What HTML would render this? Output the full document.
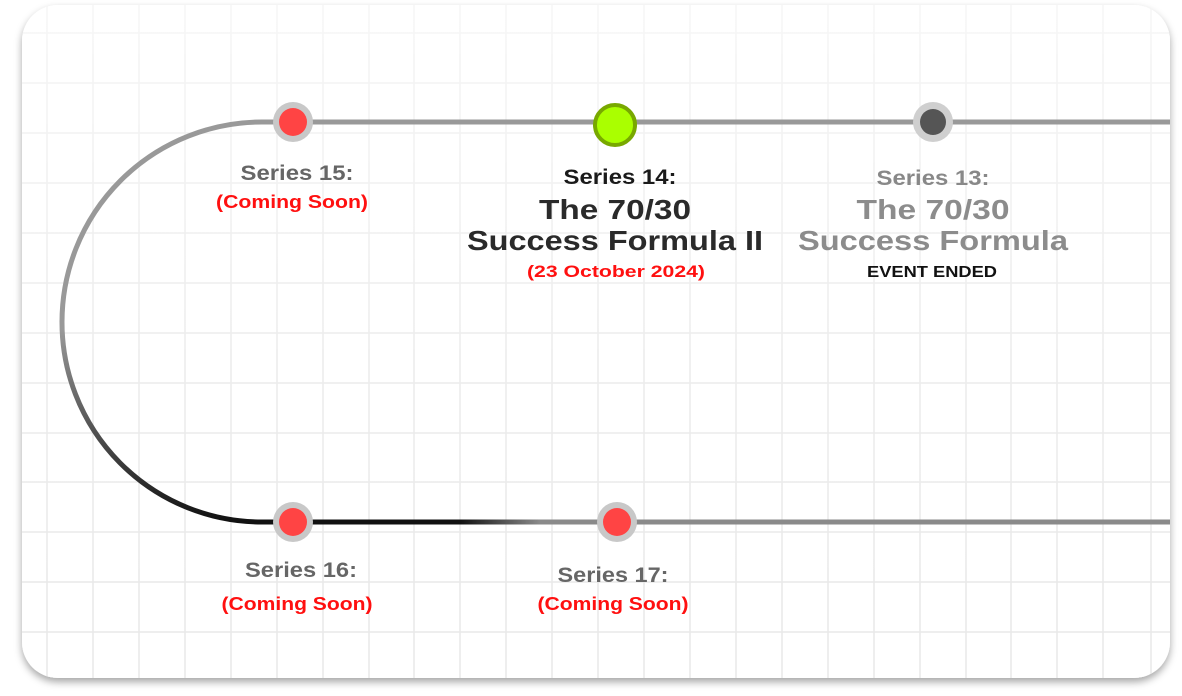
<!DOCTYPE html>
<html><head><meta charset="utf-8"><style>
html,body{margin:0;padding:0;background:#fff;width:1182px;height:696px;overflow:hidden}
svg{display:block}
text{font-family:"Liberation Sans",sans-serif;text-anchor:middle}
</style></head><body>
<svg width="1182" height="696" viewBox="0 0 1182 696">
<defs>
<filter id="sh" x="-5%" y="-5%" width="110%" height="115%">
<feDropShadow dx="0" dy="4" stdDeviation="4" flood-color="#000" flood-opacity="0.35"/>
</filter>
<clipPath id="cc"><rect x="22" y="5" width="1148" height="673" rx="36"/></clipPath>
<linearGradient id="ga" gradientUnits="userSpaceOnUse" x1="0" y1="330" x2="0" y2="522">
<stop offset="0" stop-color="#999"/><stop offset="1" stop-color="#111"/></linearGradient>
<linearGradient id="gb" gradientUnits="userSpaceOnUse" x1="460" y1="0" x2="540" y2="0">
<stop offset="0" stop-color="#111"/><stop offset="1" stop-color="#8a8a8a"/></linearGradient>
<linearGradient id="gf" x1="0" y1="0" x2="0" y2="1">
<stop offset="0" stop-color="#fff" stop-opacity="0.6"/><stop offset="0.5" stop-color="#fff" stop-opacity="0.2"/><stop offset="1" stop-color="#fff" stop-opacity="0"/></linearGradient>
</defs>
<rect x="22" y="5" width="1148" height="673" rx="36" fill="#fff" filter="url(#sh)"/>
<g clip-path="url(#cc)" stroke="#e8e8e8" stroke-width="1.5">
<line x1="47" y1="0" x2="47" y2="696"/><line x1="93" y1="0" x2="93" y2="696"/><line x1="139" y1="0" x2="139" y2="696"/><line x1="185" y1="0" x2="185" y2="696"/><line x1="231" y1="0" x2="231" y2="696"/><line x1="277" y1="0" x2="277" y2="696"/><line x1="323" y1="0" x2="323" y2="696"/><line x1="369" y1="0" x2="369" y2="696"/><line x1="414" y1="0" x2="414" y2="696"/><line x1="460" y1="0" x2="460" y2="696"/><line x1="506" y1="0" x2="506" y2="696"/><line x1="552" y1="0" x2="552" y2="696"/><line x1="598" y1="0" x2="598" y2="696"/><line x1="644" y1="0" x2="644" y2="696"/><line x1="690" y1="0" x2="690" y2="696"/><line x1="736" y1="0" x2="736" y2="696"/><line x1="782" y1="0" x2="782" y2="696"/><line x1="828" y1="0" x2="828" y2="696"/><line x1="874" y1="0" x2="874" y2="696"/><line x1="920" y1="0" x2="920" y2="696"/><line x1="966" y1="0" x2="966" y2="696"/><line x1="1011" y1="0" x2="1011" y2="696"/><line x1="1057" y1="0" x2="1057" y2="696"/><line x1="1103" y1="0" x2="1103" y2="696"/><line x1="1151" y1="0" x2="1151" y2="696"/>
<line x1="0" y1="33" x2="1182" y2="33"/><line x1="0" y1="83" x2="1182" y2="83"/><line x1="0" y1="133" x2="1182" y2="133"/><line x1="0" y1="183" x2="1182" y2="183"/><line x1="0" y1="233" x2="1182" y2="233"/><line x1="0" y1="283" x2="1182" y2="283"/><line x1="0" y1="333" x2="1182" y2="333"/><line x1="0" y1="383" x2="1182" y2="383"/><line x1="0" y1="433" x2="1182" y2="433"/><line x1="0" y1="482" x2="1182" y2="482"/><line x1="0" y1="532" x2="1182" y2="532"/><line x1="0" y1="582" x2="1182" y2="582"/><line x1="0" y1="632" x2="1182" y2="632"/>
</g>
<rect x="22" y="5" width="1148" height="673" rx="36" fill="url(#gf)"/>
<g fill="none" stroke-width="5">
<path d="M1170 122 H262 A200 200 0 0 0 62 322" stroke="#999"/>
<path d="M62 320 A200 200 0 0 0 262 522" stroke="url(#ga)"/>
<path d="M260 522 H1170" stroke="url(#gb)"/>
</g>
<circle cx="293" cy="122" r="20" fill="#c8c8c8"/><circle cx="293" cy="122" r="14" fill="#ff4444"/>
<circle cx="615" cy="125" r="20" fill="#aaff00" stroke="#78a800" stroke-width="4"/>
<circle cx="933" cy="122" r="20" fill="#cfcfcf"/><circle cx="933" cy="122" r="13" fill="#555"/>
<circle cx="293" cy="522" r="20" fill="#c8c8c8"/><circle cx="293" cy="522" r="14" fill="#ff4444"/>
<circle cx="617" cy="522" r="20" fill="#c8c8c8"/><circle cx="617" cy="522" r="14" fill="#ff4444"/>
<g font-weight="bold" lengthAdjust="spacingAndGlyphs">
<text x="297" y="180" font-size="21" fill="#666" textLength="113" lengthAdjust="spacingAndGlyphs">Series 15:</text>
<text x="292" y="208" font-size="18" fill="#ff1010" textLength="152" lengthAdjust="spacingAndGlyphs">(Coming Soon)</text>
<text x="620" y="184" font-size="21" fill="#1a1a1a" textLength="113" lengthAdjust="spacingAndGlyphs">Series 14:</text>
<text x="615" y="219" font-size="28" fill="#2a2a2a" textLength="152" lengthAdjust="spacingAndGlyphs">The 70/30</text>
<text x="615" y="250" font-size="28" fill="#2a2a2a" textLength="296" lengthAdjust="spacingAndGlyphs">Success Formula II</text>
<text x="616" y="277" font-size="17" fill="#ff1010" textLength="178" lengthAdjust="spacingAndGlyphs">(23 October 2024)</text>
<text x="933" y="185" font-size="21" fill="#888" textLength="113" lengthAdjust="spacingAndGlyphs">Series 13:</text>
<text x="933" y="219" font-size="28" fill="#8c8c8c" textLength="153" lengthAdjust="spacingAndGlyphs">The 70/30</text>
<text x="933" y="250" font-size="28" fill="#8c8c8c" textLength="270" lengthAdjust="spacingAndGlyphs">Success Formula</text>
<text x="932" y="277" font-size="16" fill="#111" textLength="130" lengthAdjust="spacingAndGlyphs">EVENT ENDED</text>
<text x="301" y="577" font-size="21" fill="#666" textLength="112" lengthAdjust="spacingAndGlyphs">Series 16:</text>
<text x="297" y="610" font-size="18" fill="#ff1010" textLength="151" lengthAdjust="spacingAndGlyphs">(Coming Soon)</text>
<text x="613" y="582" font-size="21" fill="#666" textLength="111" lengthAdjust="spacingAndGlyphs">Series 17:</text>
<text x="613" y="610" font-size="18" fill="#ff1010" textLength="151" lengthAdjust="spacingAndGlyphs">(Coming Soon)</text>
</g>
</svg>
</body></html>
